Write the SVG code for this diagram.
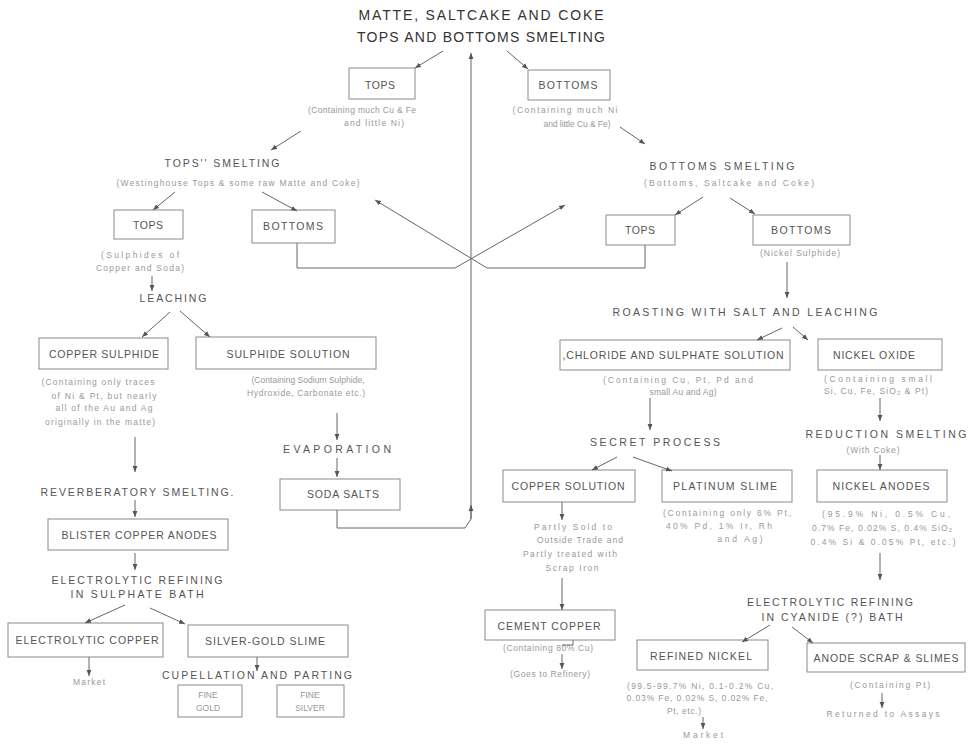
<svg xmlns="http://www.w3.org/2000/svg" width="971" height="749" viewBox="0 0 971 749">
<style>
text{font-family:"Liberation Sans",Arial,sans-serif;text-anchor:middle}
.t{font-size:14px;fill:#333}
.l{font-size:10.5px;fill:#555}
.p{font-size:10.5px;fill:#555}
.s{font-size:8.5px;fill:#999}
.b{fill:none;stroke:#8a8a8a;stroke-width:1}
.c{fill:none;stroke:#666;stroke-width:1;marker-end:url(#ah)}
.n{fill:none;stroke:#666;stroke-width:1}
</style>
<defs>
<marker id="ah" viewBox="0 0 10 10" refX="10" refY="5" markerWidth="6" markerHeight="6" orient="auto" markerUnits="userSpaceOnUse"><path d="M0,1 L10,5 L0,9 z" fill="#555"/></marker>
</defs>
<rect width="971" height="749" fill="#fff"/>

<g id="title">
<text class="t" x="481" y="20" textLength="245">MATTE, SALTCAKE AND COKE</text>
<text class="t" x="481" y="42" textLength="248">TOPS AND BOTTOMS SMELTING</text>
</g>

<g id="tops1">
<rect class="b" x="349" y="68" width="66" height="31"/>
<text class="l" x="380" y="89" textLength="30">TOPS</text>
<text class="s" x="362" y="113" textLength="108">(Containing much Cu &amp; Fe</text>
<text class="s" x="374" y="126" textLength="60">and little Ni)</text>
</g>
<g id="bottoms1">
<rect class="b" x="528" y="70" width="82" height="30"/>
<text class="l" x="568" y="89" textLength="59">BOTTOMS</text>
<text class="s" x="565" y="113" textLength="105">(Containing much Ni</text>
<text class="s" x="577" y="127" textLength="67">and little Cu &amp; Fe)</text>
</g>

<g id="topsSmelting">
<text class="p" x="222" y="167" textLength="115">TOPS'' SMELTING</text>
<text class="s" x="238" y="186" textLength="243">(Westinghouse Tops &amp; some raw Matte and Coke)</text>
</g>
<g id="tops2">
<rect class="b" x="114" y="210" width="69" height="29"/>
<text class="l" x="148" y="229" textLength="30">TOPS</text>
<text class="s" x="140" y="258" textLength="78">(Sulphides of</text>
<text class="s" x="140" y="271" textLength="88">Copper and Soda)</text>
</g>
<g id="bottoms2">
<rect class="b" x="252" y="210" width="83" height="33"/>
<text class="l" x="293" y="230" textLength="60">BOTTOMS</text>
</g>
<g id="leaching">
<text class="p" x="173" y="302" textLength="67">LEACHING</text>
</g>
<g id="copperSulphide">
<rect class="b" x="39" y="338" width="129" height="31"/>
<text class="l" x="104" y="358" textLength="110">COPPER SULPHIDE</text>
<text class="s" x="98" y="385" textLength="113">(Containing only traces</text>
<text class="s" x="104" y="399" textLength="105">of Ni &amp; Pt, but nearly</text>
<text class="s" x="104" y="411" textLength="97">all of the Au and Ag</text>
<text class="s" x="100" y="425" textLength="110">originally in the matte)</text>
</g>
<g id="sulphideSolution">
<rect class="b" x="196" y="337" width="180" height="32"/>
<text class="l" x="288" y="358" textLength="123">SULPHIDE SOLUTION</text>
<text class="s" x="308" y="383" textLength="113">(Containing Sodium Sulphide,</text>
<text class="s" x="306" y="396" textLength="118">Hydroxide, Carbonate etc.)</text>
</g>
<g id="evaporation">
<text class="p" x="337" y="453" textLength="108">EVAPORATION</text>
</g>
<g id="sodaSalts">
<rect class="b" x="280" y="479" width="120" height="31"/>
<text class="l" x="343" y="498" textLength="72">SODA SALTS</text>
</g>
<g id="reverberatory">
<text class="p" x="137" y="496" textLength="193">REVERBERATORY SMELTING.</text>
</g>
<g id="blister">
<rect class="b" x="48" y="519" width="180" height="31"/>
<text class="l" x="139" y="539" textLength="155">BLISTER COPPER ANODES</text>
</g>
<g id="electrolyticRefining1">
<text class="p" x="137" y="584" textLength="171">ELECTROLYTIC REFINING</text>
<text class="p" x="137" y="598" textLength="133">IN SULPHATE BATH</text>
</g>
<g id="electrolyticCopper">
<rect class="b" x="8" y="623" width="155" height="34"/>
<text class="l" x="87" y="644" textLength="143">ELECTROLYTIC COPPER</text>
<text class="s" x="89" y="685" textLength="32">Market</text>
</g>
<g id="silverGold">
<rect class="b" x="188" y="625" width="160" height="32"/>
<text class="l" x="265" y="645" textLength="120">SILVER-GOLD SLIME</text>
</g>
<g id="cupellation">
<text class="p" x="257" y="679" textLength="190">CUPELLATION AND PARTING</text>
</g>
<g id="fineGold">
<rect class="b" x="178" y="685" width="64" height="32"/>
<text class="s" x="208" y="698">FINE</text>
<text class="s" x="208" y="711">GOLD</text>
</g>
<g id="fineSilver">
<rect class="b" x="277" y="685" width="67" height="32"/>
<text class="s" x="310" y="698">FINE</text>
<text class="s" x="310" y="711">SILVER</text>
</g>

<g id="bottomsSmelting">
<text class="p" x="722" y="170" textLength="145">BOTTOMS SMELTING</text>
<text class="s" x="729" y="186" textLength="170">(Bottoms, Saltcake and Coke)</text>
</g>
<g id="tops3">
<rect class="b" x="606" y="215" width="69" height="30"/>
<text class="l" x="640" y="234" textLength="30">TOPS</text>
</g>
<g id="bottoms3">
<rect class="b" x="753" y="215" width="97" height="30"/>
<text class="l" x="801" y="234" textLength="60">BOTTOMS</text>
<text class="s" x="800" y="256" textLength="80">(Nickel Sulphide)</text>
</g>
<g id="roasting">
<text class="p" x="745" y="316" textLength="265">ROASTING WITH SALT AND LEACHING</text>
</g>
<g id="chloride">
<rect class="b" x="560" y="340" width="230" height="30"/>
<text class="l" x="673" y="359" textLength="221">,CHLORIDE AND SULPHATE SOLUTION</text>
<text class="s" x="678" y="383" textLength="150">(Containing Cu, Pt, Pd and</text>
<text class="s" x="683" y="395" textLength="67">small Au and Ag)</text>
</g>
<g id="nickelOxide">
<rect class="b" x="818" y="339" width="124" height="31"/>
<text class="l" x="874" y="359" textLength="82">NICKEL OXIDE</text>
<text class="s" x="878" y="382" textLength="108">(Containing small</text>
<text class="s" x="876" y="394" textLength="104">Si, Cu, Fe, SiO₂ &amp; Pt)</text>
</g>
<g id="secret">
<text class="p" x="655" y="446" textLength="130">SECRET PROCESS</text>
</g>
<g id="reduction">
<text class="p" x="886" y="438" textLength="161">REDUCTION SMELTING</text>
<text class="s" x="873" y="453" textLength="53">(With Coke)</text>
</g>
<g id="nickelAnodes">
<rect class="b" x="817" y="470" width="130" height="32"/>
<text class="l" x="881" y="490" textLength="97">NICKEL ANODES</text>
<text class="s" x="886" y="517" textLength="128">(95.9% Ni, 0.5% Cu,</text>
<text class="s" x="882" y="531" textLength="140">0.7% Fe, 0.02% S, 0.4% SiO₂</text>
<text class="s" x="883" y="545" textLength="145">0.4% Si &amp; 0.05% Pt, etc.)</text>
</g>
<g id="electrolyticRefining2">
<text class="p" x="830" y="606" textLength="166">ELECTROLYTIC REFINING</text>
<text class="p" x="832" y="621" textLength="141">IN CYANIDE (?) BATH</text>
</g>
<g id="copperSolution">
<rect class="b" x="503" y="470" width="132" height="32"/>
<text class="l" x="568" y="490" textLength="113">COPPER SOLUTION</text>
<text class="s" x="573" y="530" textLength="78">Partly Sold to</text>
<text class="s" x="580" y="543" textLength="86">Outside Trade and</text>
<text class="s" x="570" y="557" textLength="94">Partly treated with</text>
<text class="s" x="572" y="571" textLength="53">Scrap Iron</text>
</g>
<g id="platinumSlime">
<rect class="b" x="662" y="470" width="130" height="32"/>
<text class="l" x="725" y="490" textLength="104">PLATINUM SLIME</text>
<text class="s" x="727" y="516" textLength="128">(Containing only 6% Pt,</text>
<text class="s" x="719" y="529" textLength="106">40% Pd, 1% Ir, Rh</text>
<text class="s" x="740" y="542" textLength="45">and Ag)</text>
</g>
<g id="cementCopper">
<rect class="b" x="485" y="610" width="130" height="30"/>
<text class="l" x="549" y="630" textLength="103">CEMENT COPPER</text>
<text class="s" x="548" y="651" textLength="90">(Containing 80% Cu)</text>
<text class="s" x="550" y="677" textLength="80">(Goes to Refinery)</text>
</g>
<g id="refinedNickel">
<rect class="b" x="637" y="640" width="131" height="30"/>
<text class="l" x="701" y="660" textLength="102">REFINED NICKEL</text>
<text class="s" x="700" y="689" textLength="146">(99.5-99.7% Ni, 0.1-0.2% Cu,</text>
<text class="s" x="697" y="701" textLength="141">0.03% Fe, 0.02% S, 0.02% Fe,</text>
<text class="s" x="684" y="714" textLength="34">Pt, etc.)</text>
<text class="s" x="703" y="738" textLength="40">Market</text>
</g>
<g id="anodeScrap">
<rect class="b" x="807" y="643" width="158" height="29"/>
<text class="l" x="886" y="662" textLength="145">ANODE SCRAP &amp; SLIMES</text>
<text class="s" x="890" y="688" textLength="80">(Containing Pt)</text>
<text class="s" x="883" y="717" textLength="113">Returned to Assays</text>
</g>

<g id="connectors">
<path class="c" d="M443,51 L415,68"/>
<path class="c" d="M507,51 L528,69"/>
<path class="c" d="M337,510 V528 H465 L471,519 V53"/>
<path class="c" d="M471,519 V505"/>
<path class="c" d="M301,131 L271,150"/>
<path class="c" d="M620,127 L645,144"/>
<path class="c" d="M175,192 L153,210"/>
<path class="c" d="M262,192 L297,211"/>
<path class="c" d="M297,243 V268 H455 L565,205"/>
<path class="c" d="M645,245 V268 H487 L375,200"/>
<path class="c" d="M152,276 V291"/>
<path class="c" d="M170,312 L142,337"/>
<path class="c" d="M180,311 L210,337"/>
<path class="c" d="M337,413 V440"/>
<path class="c" d="M337,458 V477"/>
<path class="c" d="M135,437 V472"/>
<path class="c" d="M135,500 V517"/>
<path class="c" d="M135,553 V570"/>
<path class="c" d="M125,605 L85,623"/>
<path class="c" d="M150,608 L185,624"/>
<path class="c" d="M89,657 V676"/>
<path class="c" d="M257,657 V671"/>
<path class="c" d="M703,197 L675,215"/>
<path class="c" d="M730,198 L755,214"/>
<path class="c" d="M787,262 V298"/>
<path class="c" d="M782,328 L757,340"/>
<path class="c" d="M793,327 L808,340"/>
<path class="c" d="M650,398 V430"/>
<path class="c" d="M880,398 V421"/>
<path class="c" d="M880,455 V470"/>
<path class="c" d="M617,457 L592,470"/>
<path class="c" d="M633,457 L672,471"/>
<path class="c" d="M562,502 V520"/>
<path class="c" d="M562,578 V610"/>
<path class="n" d="M573,640 V645 H562"/>
<path class="c" d="M562,654 V669"/>
<path class="c" d="M880,553 V580"/>
<path class="c" d="M770,625 L742,642"/>
<path class="c" d="M792,627 L813,643"/>
<path class="c" d="M703,717 V729"/>
<path class="c" d="M882,693 V708"/>
</g>
</svg>
